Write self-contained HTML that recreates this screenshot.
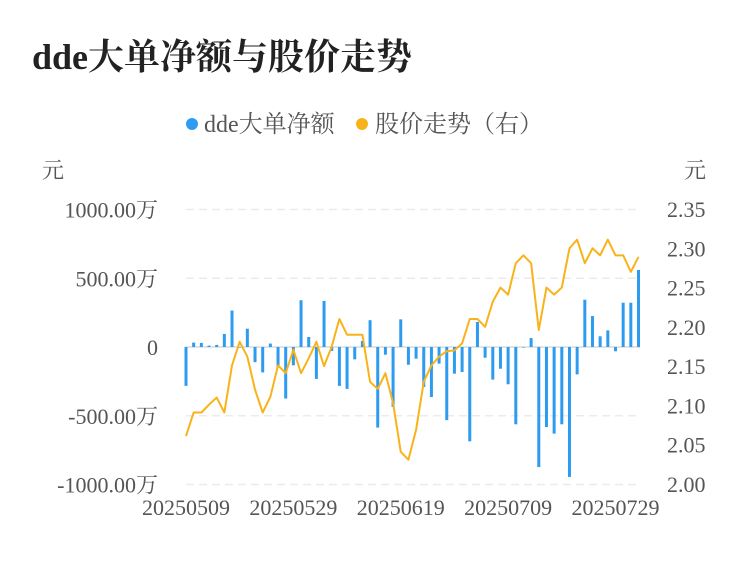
<!DOCTYPE html>
<html><head><meta charset="utf-8"><style>
html,body{margin:0;padding:0;background:#fff;}
body{width:750px;height:558px;overflow:hidden;font-family:"Liberation Serif","Noto Serif CJK SC","Noto Sans CJK SC",serif;}
</style></head><body>
<svg id="chart" width="750" height="558" xmlns="http://www.w3.org/2000/svg" font-family="Liberation Serif, Noto Serif CJK SC, Noto Sans CJK SC, serif">
<text x="32" y="69" font-size="36" font-weight="bold" fill="#222">dde大单净额与股价走势</text>
<g>
<g><circle cx="192" cy="124" r="6" fill="#2d9cf0"/><text x="204" y="132" font-size="24" fill="#555">dde大单净额</text></g>
<g><circle cx="362" cy="124" r="6" fill="#f8b31b"/><text x="375" y="132" font-size="24" fill="#555">股价走势（右）</text></g>
</g>
<text x="42" y="178" font-size="22" fill="#555">元</text>
<text x="684" y="178" font-size="22" fill="#555">元</text>
<g id="grid"></g><g id="bars"></g><g id="line"></g><g id="axes"></g>
</svg>
<script>
const categories=["20250509","20250512","20250513","20250514","20250515","20250516","20250519","20250520","20250521","20250522","20250523","20250526","20250527","20250528","20250529","20250530","20250603","20250604","20250605","20250606","20250609","20250610","20250611","20250612","20250613","20250616","20250617","20250618","20250619","20250620","20250623","20250624","20250625","20250626","20250627","20250630","20250701","20250702","20250703","20250704","20250707","20250708","20250709","20250710","20250711","20250714","20250715","20250716","20250717","20250718","20250721","20250722","20250723","20250724","20250725","20250728","20250729","20250730","20250731","20250801"];
const ddeValues=[-283,32,30,10,15,95,265,0,133,-110,-185,25,-145,-375,-133,340,73,-232,335,-29,-283,-305,-90,44,195,-586,-56,-436,201,-129,-85,-291,-364,-121,-532,-194,-182,-686,182,-78,-237,-158,-271,-562,0,65,-873,-582,-630,-562,-945,-199,344,225,78,121,-31,322,322,560];
const priceValues=[2.061,2.091,2.091,2.101,2.110,2.091,2.151,2.181,2.162,2.120,2.091,2.111,2.151,2.141,2.171,2.141,2.160,2.181,2.150,2.175,2.210,2.190,2.190,2.190,2.130,2.121,2.141,2.103,2.041,2.031,2.069,2.130,2.151,2.162,2.169,2.170,2.179,2.210,2.210,2.200,2.232,2.250,2.241,2.281,2.291,2.281,2.196,2.250,2.241,2.250,2.300,2.311,2.281,2.300,2.291,2.311,2.291,2.291,2.270,2.289];
const leftTicks=[1000,500,0,-500,-1000];
const leftTickLabels=["1000.00万","500.00万","0","-500.00万","-1000.00万"];
const rightTicks=[2.35,2.30,2.25,2.20,2.15,2.10,2.05,2.00];
const xLabelIdx=[0,14,28,42,56];

const NS="http://www.w3.org/2000/svg";
const X0=186,X1=638.5,TOP=209,BOT=484;
const xS=i=>X0+i*(X1-X0)/(categories.length-1);
const yL=v=>347-v*(BOT-TOP)/2000;
const yR=v=>BOT-(v-2.0)*(BOT-TOP)/0.35;
function mk(tag,attrs,parent){const e=document.createElementNS(NS,tag);for(const k in attrs)e.setAttribute(k,attrs[k]);parent.appendChild(e);return e;}
const grid=document.getElementById('grid'),bars=document.getElementById('bars'),line=document.getElementById('line'),axes=document.getElementById('axes');
leftTicks.forEach((t,i)=>{
  const y=yL(t);
  const g=mk('line',{x1:X0,x2:640,y1:y,y2:y,stroke:t===0?'#e3e3e3':'#ebebeb','stroke-width':t===0?2:1.5,'stroke-dasharray':t===0?'none':'8 5'},grid);
  
  
  const tx=mk('text',{x:158,y:y+8,'font-size':22,fill:'#555','text-anchor':'end'},axes);
  tx.textContent=leftTickLabels[i];
  
  
});
rightTicks.forEach(t=>{
  const tx=mk('text',{x:667,y:yR(t)+8,'font-size':22,fill:'#555'},axes);
  tx.textContent=t.toFixed(2);
  
  
});
xLabelIdx.forEach(i=>{
  const tx=mk('text',{x:xS(i),y:515,'font-size':22,fill:'#555','text-anchor':'middle'},axes);
  tx.textContent=categories[i];
  
  
});
ddeValues.forEach((v,i)=>{
  const y0=yL(0),y1=yL(v);
  const r=mk('rect',{x:xS(i)-1.5,y:Math.min(y0,y1),width:3,height:Math.max(Math.abs(y1-y0),0.5),fill:'#2d9cf0'},bars);
  
  
});
const p=mk('polyline',{points:priceValues.map((v,i)=>xS(i)+','+yR(v)).join(' '),fill:'none',stroke:'#f8b31b','stroke-width':2,'stroke-linejoin':'round'},line);


</script>
</body></html>
